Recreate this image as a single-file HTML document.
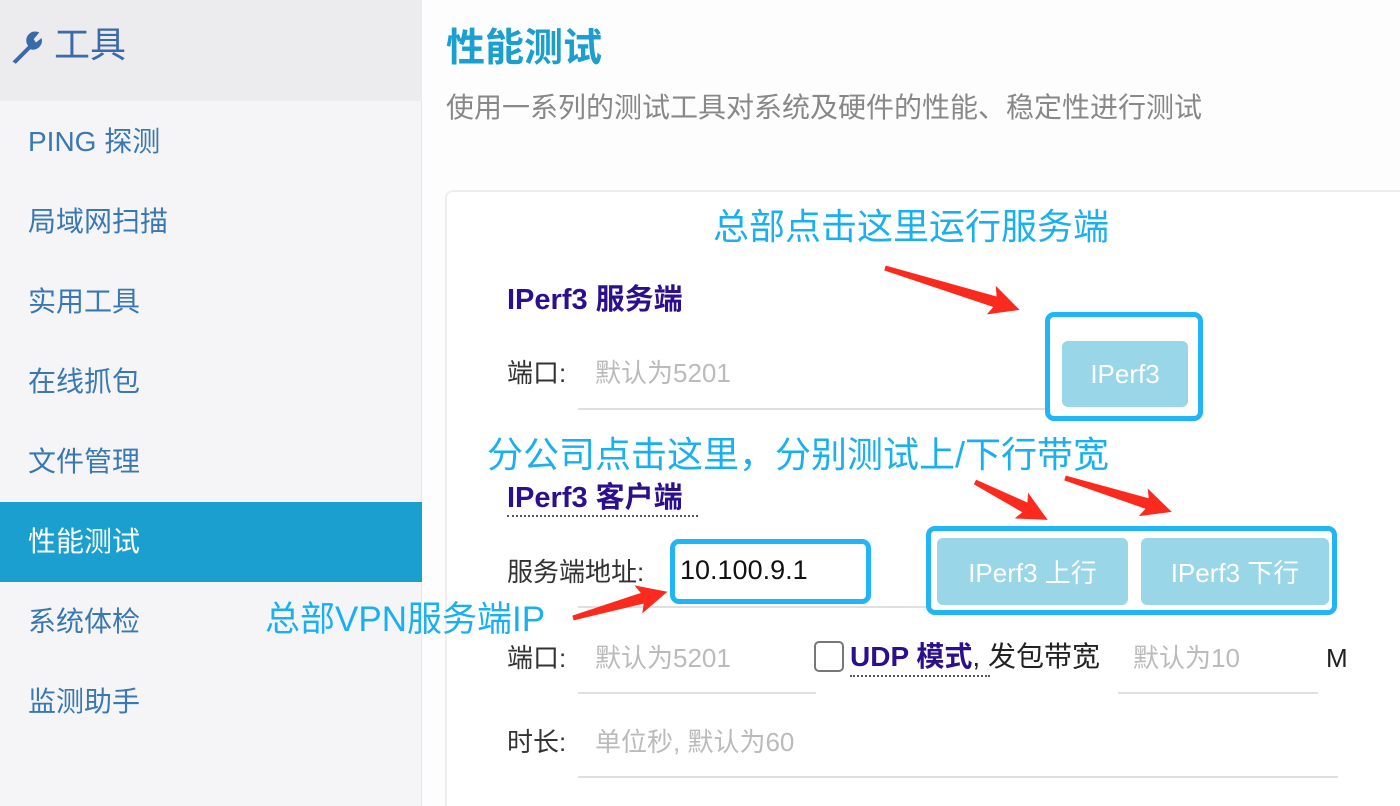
<!DOCTYPE html>
<html><head><meta charset="utf-8"><style>
*{margin:0;padding:0;box-sizing:border-box}
html,body{width:1400px;height:806px;overflow:hidden}
body{background:#fdfdfd;font-family:"Liberation Sans","Noto Sans CJK SC",sans-serif;position:relative}
.a{position:absolute;white-space:nowrap;line-height:1}
.side{position:absolute;left:0;top:0;width:422px;height:806px;background:#f5f5f7;border-right:1px solid #e6e6e6}
.hd{position:absolute;left:0;top:0;width:422px;height:101px;background:#ececee}
.it{position:absolute;left:28px;font-size:28px;color:#3a78b4;line-height:1}
.act{position:absolute;left:0;top:502px;width:422px;height:80px;background:#1a9fce}
.lbl{font-size:26px;color:#333}
.ph{font-size:26px;color:#bbb}
.ul{position:absolute;height:2px;background:#e0e0e0}
.hb{position:absolute;border:5px solid #22b5f5;border-radius:9px}
.btn{position:absolute;background:#98d6e8;border-radius:6px;color:#fff;font-size:26px;display:flex;align-items:center;justify-content:center}
.cy{font-size:36px;color:#1ab0f0}
.ind{color:#2c0f8f;font-weight:bold}
</style></head><body>
<div class="side"></div>
<div class="hd"></div>
<svg class="a" style="left:8px;top:28px" width="38" height="38" viewBox="0 0 34 34"><path d="M4 30 L18 16 A8 8 0 0 1 28 4 L23 10 L25 13 L30 9 A8 8 0 0 1 20 19 L7 32 Z" fill="#3a6aa8"/></svg>
<div class="a" style="left:54px;top:27px;font-size:36px;color:#3a6aa8">工具</div>
<div class="act"></div>
<div class="it" style="top:128px">PING 探测</div>
<div class="it" style="top:208px">局域网扫描</div>
<div class="it" style="top:288px">实用工具</div>
<div class="it" style="top:368px">在线抓包</div>
<div class="it" style="top:448px">文件管理</div>
<div class="it" style="top:528px;color:#fff">性能测试</div>
<div class="it" style="top:608px">系统体检</div>
<div class="it" style="top:688px">监测助手</div>

<div class="a" style="left:446px;top:29px;font-size:39px;font-weight:bold;color:#1a9fce">性能测试</div>
<div class="a" style="left:446px;top:94px;font-size:28px;color:#888">使用一系列的测试工具对系统及硬件的性能、稳定性进行测试</div>
<div style="position:absolute;left:445px;top:190px;width:980px;height:640px;border:2px solid #eee;border-radius:8px;background:#fff"></div>

<div class="a cy" style="left:713px;top:209px">总部点击这里运行服务端</div>
<div class="a ind" style="left:507px;top:286px;font-size:29px">IPerf3 服务端</div>
<div class="a lbl" style="left:507px;top:360px">端口:</div>
<div class="a ph" style="left:595px;top:360px">默认为5201</div>
<div class="ul" style="left:578px;top:408px;width:470px"></div>
<div class="hb" style="left:1045px;top:312px;width:158px;height:109px"></div>
<div class="btn" style="left:1062px;top:341px;width:126px;height:66px">IPerf3</div>

<div class="a cy" style="left:487px;top:437px">分公司点击这里，分别测试上/下行带宽</div>
<div class="a ind" style="left:507px;top:484px;font-size:29px">IPerf3 客户端</div>
<div style="position:absolute;left:507px;top:515px;width:191px;border-top:2px dotted #555"></div>
<div class="a lbl" style="left:507px;top:559px">服务端地址:</div>
<div class="ul" style="left:578px;top:606px;width:352px"></div>
<div class="hb" style="left:670px;top:539px;width:201px;height:65px;background:#fff"></div>
<div class="a" style="left:680px;top:557px;font-size:27px;color:#111">10.100.9.1</div>
<div class="hb" style="left:926px;top:526px;width:411px;height:89px"></div>
<div class="btn" style="left:937px;top:538px;width:191px;height:67px">IPerf3 上行</div>
<div class="btn" style="left:1141px;top:538px;width:188px;height:67px">IPerf3 下行</div>
<div class="a cy" style="left:265px;top:602px;font-size:35px">总部VPN服务端IP</div>

<div class="a lbl" style="left:507px;top:645px">端口:</div>
<div class="a ph" style="left:595px;top:645px">默认为5201</div>
<div class="ul" style="left:578px;top:692px;width:238px"></div>
<div style="position:absolute;left:814px;top:641px;width:30px;height:31px;border:2px solid #777;border-radius:5px;background:#fff"></div>
<div class="a" style="left:850px;top:643px;font-size:28px"><span class="ind">UDP 模式</span><span style="color:#222">, 发包带宽</span></div>
<div style="position:absolute;left:850px;top:675px;width:140px;border-top:2px dotted #555"></div>
<div class="a ph" style="left:1133px;top:645px">默认为10</div>
<div class="a" style="left:1326px;top:645px;font-size:26px;color:#222">M</div>
<div class="ul" style="left:1118px;top:692px;width:200px"></div>

<div class="a lbl" style="left:507px;top:729px">时长:</div>
<div class="a ph" style="left:595px;top:729px">单位秒, 默认为60</div>
<div class="ul" style="left:578px;top:776px;width:760px"></div>

<svg class="a" style="left:0;top:0" width="1400" height="806">
<g fill="#fa2a1e">
<polygon transform="translate(885,268) rotate(17.3)" points="0,-2.5 115,-6 111,-16 141,0 111,14 115,5 0,2.5"/>
<polygon transform="translate(975,482) rotate(27.5)" points="0,-2.5 56,-6 52,-15 82,0 52,14 56,5 0,2.5"/>
<polygon transform="translate(1065,478) rotate(17.6)" points="0,-2.5 86,-6 82,-15 112,0 82,14 86,5 0,2.5"/>
<polygon transform="translate(573,618) rotate(-15.5)" points="0,-2.5 72,-6 68,-15 98,0 68,14 72,5 0,2.5"/>
</g></svg>
</body></html>
